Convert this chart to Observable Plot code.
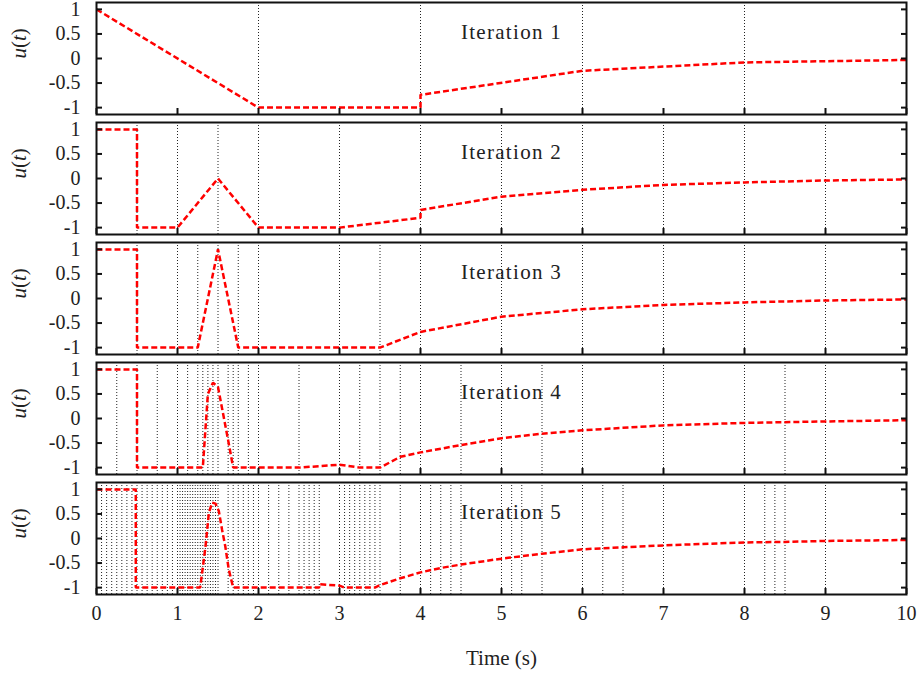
<!DOCTYPE html>
<html><head><meta charset="utf-8">
<script src="https://cdn.jsdelivr.net/npm/d3@7"></script>
<script src="https://cdn.jsdelivr.net/npm/@observablehq/plot@0.6"></script>
<style>
body{margin:0;background:#fff;}
#chart{width:917px;}
#chart svg{display:block;overflow:visible;}
</style></head><body><div id="chart"></div>
<script>
const iterationLabels = ["Iteration 1", "Iteration 2", "Iteration 3", "Iteration 4", "Iteration 5"];
const xTicks = [0, 1, 2, 3, 4, 5, 6, 7, 8, 9, 10];
const yTicks = [-1, -0.5, 0, 0.5, 1];
const yTickLabels = ["-1", "-0.5", "0", "0.5", "1"];
const yLabel = "u(t)";
const xLabel = "Time (s)";

// Iteration 1
const t1 = [0, 2, 4, 4, 6, 8, 10];
const u1 = [1, -1, -1, -0.74, -0.25, -0.08, -0.03];
const mesh1 = [2, 4, 6, 8];

// Iteration 2
const t2 = [0, 0.5, 0.5, 1, 1.5, 2, 3, 4, 4, 5, 6, 7, 8, 9, 10];
const u2 = [1, 1, -1, -1, 0, -1, -1, -0.8, -0.64, -0.37, -0.23, -0.13, -0.08, -0.04, -0.02];
const mesh2 = [0.5, 1, 1.5, 2, 3, 4, 5, 6, 7, 8, 9];

// Iteration 3
const t3 = [0, 0.5, 0.5, 1, 1.25, 1.5, 1.75, 2, 3, 3.5, 4, 5, 6, 7, 8, 9, 10];
const u3 = [1, 1, -1, -1, -1, 1, -1, -1, -1, -1, -0.68, -0.37, -0.22, -0.13, -0.08, -0.04, -0.02];
const mesh3 = [0.5, 1, 1.25, 1.5, 1.75, 2, 3, 3.5, 4, 5, 6, 7, 8, 9];

// Iteration 4
const t4 = [0, 0.5, 0.5, 1, 1.25, 1.3125, 1.375, 1.4375, 1.5, 1.625, 1.6875, 1.75, 2, 2.5, 3, 3.25, 3.5, 3.75, 4, 4.5, 5, 5.5, 6, 7, 8, 8.5, 9, 10];
const u4 = [1, 1, -1, -1, -1, -1, 0.5, 0.73, 0.64, -0.44, -1, -1, -1, -1, -0.94, -1, -1, -0.78, -0.69, -0.54, -0.4, -0.31, -0.24, -0.14, -0.09, -0.075, -0.06, -0.035];
const mesh4 = [0.25, 0.5, 0.75, 1, 1.125, 1.25, 1.3125, 1.375, 1.4375, 1.5, 1.625, 1.6875, 1.75, 1.875, 2, 2.5, 3, 3.25, 3.5, 3.75, 4, 4.5, 5, 5.5, 6, 7, 8, 8.5, 9];

// Iteration 5
const t5 = [0, 0.485, 0.485, 1.28, 1.346, 1.387, 1.428, 1.469, 1.51, 1.55, 1.59, 1.633, 1.6875, 2, 2.75, 2.75, 3, 3.0625, 3.4375, 3.5, 3.75, 4, 4.25, 4.5, 5, 5.5, 6, 6.5, 7, 8, 8.5, 9, 10];
const u5 = [1, 1, -1, -1, -0.16, 0.52, 0.73, 0.71, 0.56, 0.18, -0.16, -0.63, -1, -1, -1, -0.93, -0.96, -1, -1, -0.95, -0.81, -0.69, -0.6, -0.53, -0.41, -0.31, -0.22, -0.18, -0.14, -0.08, -0.07, -0.05, -0.03];
const mesh5 = [0.0625, 0.125, 0.1875, 0.25, 0.3125, 0.375, 0.4375, 0.5, 0.5625, 0.625, 0.6875, 0.75, 0.8125, 0.875, 0.9375, 1,
  1.03125, 1.0625, 1.09375, 1.125, 1.15625, 1.1875, 1.21875, 1.25, 1.28125, 1.3125, 1.34375, 1.375, 1.40625, 1.4375, 1.46875, 1.5,
  1.625, 1.6875, 1.75, 1.8125, 1.875, 1.9375, 2, 2.125, 2.25, 2.375, 2.5, 2.5625, 2.625, 2.6875, 2.75,
  3, 3.0625, 3.125, 3.1875, 3.25, 3.3125, 3.375, 3.4375, 3.5, 3.75, 4, 4.125, 4.25, 4.375, 4.5,
  5, 5.125, 5.25, 5.5, 6, 6.25, 6.5, 7, 8, 8.25, 8.375, 8.5, 9];

const panels = [
  {t: t1, u: u1, mesh: mesh1},
  {t: t2, u: u2, mesh: mesh2},
  {t: t3, u: u3, mesh: mesh3},
  {t: t4, u: u4, mesh: mesh4},
  {t: t5, u: u5, mesh: mesh5}
];

const serif = "'Liberation Serif', 'DejaVu Serif', serif";
const chart = document.getElementById("chart");
panels.forEach((p, i) => {
  const last = i === panels.length - 1;
  const line = p.t.map((t, j) => ({t, u: p.u[j]}));
  const marks = [
    Plot.ruleX(p.mesh, {stroke: "#222", strokeDasharray: "1,2", strokeWidth: 1}),
    Plot.line(line, {x: "t", y: "u", stroke: "#ff0000", strokeWidth: 2.5, strokeDasharray: "6,3", strokeLinecap: "butt", strokeLinejoin: "miter"}),
    Plot.axisY(yTicks, {anchor: "left", tickSize: 0, tickPadding: 16, tickFormat: d => yTickLabels[yTicks.indexOf(d)], fill: "#222", fontFamily: serif}),
    Plot.axisY(yTicks, {anchor: "left", tickSize: -6, text: null, stroke: "#111", strokeWidth: 2}),
    Plot.axisY(yTicks, {anchor: "right", tickSize: -6, text: null, stroke: "#111", strokeWidth: 2}),
    Plot.axisX(xTicks, {anchor: "bottom", tickSize: -6, text: null, stroke: "#111", strokeWidth: 2}),
    Plot.text([iterationLabels[i]], {frameAnchor: "top", lineAnchor: "middle", dx: 10, dy: 30, fontSize: 21, fill: "#222", fontFamily: serif}),
    Plot.text([yLabel], {frameAnchor: "left", dx: -77, rotate: -90, fontSize: 21, fill: "#222", fontFamily: serif}),
    Plot.frame({stroke: "#111", strokeWidth: 2})
  ];
  if (last) {
    marks.push(Plot.axisX(xTicks, {anchor: "bottom", tickSize: 0, tickPadding: 11, fill: "#222", fontFamily: serif}));
    marks.push(Plot.text([xLabel], {frameAnchor: "bottom", lineAnchor: "middle", dy: 64, fontSize: 21, fill: "#222", fontFamily: serif}));
  }
  const svg = Plot.plot({
    width: 917,
    height: last ? 194 : 120,
    marginTop: 2,
    marginBottom: last ? 80 : 6,
    marginLeft: 96,
    marginRight: 11,
    style: {fontFamily: serif, fontSize: "20px", background: "#fff", color: "#222", overflow: "visible"},
    x: {domain: [0, 10], label: null},
    y: {domain: [-1.14, 1.14], label: null},
    marks
  });
  d3.select(svg).selectAll("text").each(function () {
    const s = this.textContent;
    if (s.startsWith("Iteration")) {
      this.style.letterSpacing = "1.3px";
    } else if (s === yLabel) {
      const el = d3.select(this);
      el.text(null);
      el.append("tspan").attr("font-style", "italic").text("u");
      el.append("tspan").text("(");
      el.append("tspan").attr("font-style", "italic").text("t");
      el.append("tspan").text(")");
    }
  });
  chart.appendChild(svg);
});
</script></body></html>
